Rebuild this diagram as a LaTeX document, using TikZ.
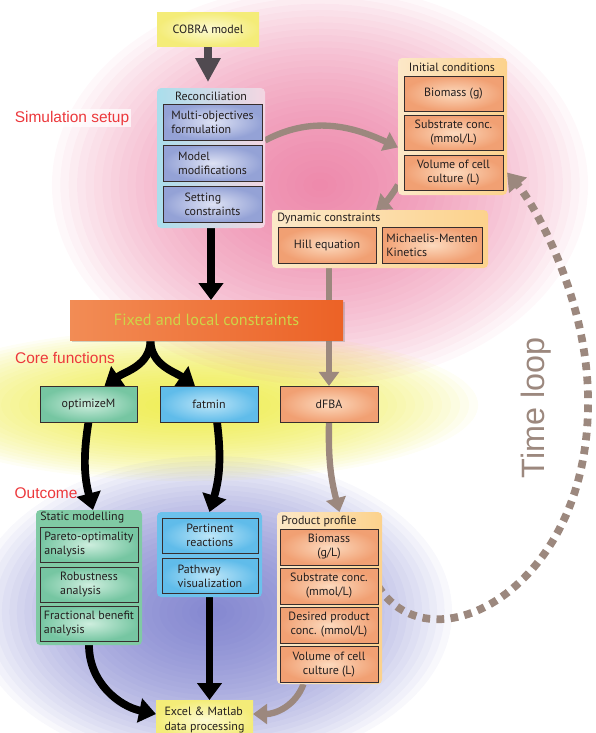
\documentclass[tikz,border=0pt]{standalone}
\usepackage{fontspec}
\setmainfont{PT Sans}
\newfontfamily\labfont{Liberation Sans}
\usetikzlibrary{arrows.meta,shadows}

\pgfdeclarelayer{glow}
\pgfdeclarelayer{wires}
\pgfsetlayers{glow,wires,main}

\begin{document}
\begin{tikzpicture}[x=0.025cm, y=-0.025cm]
  % Colors
  \definecolor{pinkglow}{RGB}{232,100,145}
  \definecolor{yelglow}{RGB}{236,234,50}
  \definecolor{bluglow}{RGB}{100,104,196}
  \definecolor{recout}{RGB}{148,162,214}
  \definecolor{recin}{RGB}{222,226,244}
  \definecolor{orout}{RGB}{241,160,115}
  \definecolor{orin}{RGB}{252,218,190}
  \definecolor{grout}{RGB}{118,198,162}
  \definecolor{grin}{RGB}{206,238,222}
  \definecolor{blout}{RGB}{96,188,234}
  \definecolor{blin}{RGB}{190,230,248}
  \definecolor{recL}{RGB}{170,222,236}
  \definecolor{recM}{RGB}{226,226,244}
  \definecolor{recR}{RGB}{244,214,226}
  \definecolor{orgrpL}{RGB}{252,232,200}
  \definecolor{orgrpR}{RGB}{252,210,140}
  \definecolor{grgrp}{RGB}{128,202,164}
  \definecolor{blgrp}{RGB}{108,193,236}
  \definecolor{yelout}{RGB}{244,236,120}
  \definecolor{yelin}{RGB}{252,250,210}
  \definecolor{fixL}{RGB}{242,140,85}
  \definecolor{fixR}{RGB}{236,98,38}
  \definecolor{fixtxt}{RGB}{206,212,72}
  \definecolor{redlab}{RGB}{236,56,60}
  \definecolor{loopcol}{RGB}{156,136,126}
  \definecolor{boxline}{RGB}{55,45,45}
  \definecolor{txtcol}{RGB}{35,30,30}
  \definecolor{cobraarr}{RGB}{80,74,80}
  %
  \def\pu{0.025cm}
  %
  \tikzset{
    ibox/.style={draw=boxline, line width=0.7pt, outer sep=0pt, inner sep=1pt,
                 minimum width=98*\pu, minimum height=35*\pu, text=txtcol,
                 font=\fontsize{8.5}{10}\selectfont},
    recbox/.style={ibox, inner color=recin, outer color=recout},
    orbox/.style={ibox, inner color=orin, outer color=orout},
    grbox/.style={ibox, inner color=grin, outer color=grout},
    blbox/.style={ibox, inner color=blin, outer color=blout},
    gbox/.style={rounded corners=3pt, outer sep=0pt, inner sep=0pt},
    gtitle/.style={font=\fontsize{8.5}{10}\selectfont, text=txtcol, inner sep=0pt},
    ybox/.style={inner color=yelin, outer color=yelout, outer sep=0pt, text=txtcol,
                 font=\fontsize{8.5}{10}\selectfont},
    stage/.style={text=redlab, font=\labfont\fontsize{11}{13}\selectfont, inner sep=1pt},
    blkarrow/.style={line width=5.5pt, -{Triangle[width=17pt,length=12pt]}},
    gryarrow/.style={line width=4.5pt, color=loopcol, -{Triangle[width=14pt,length=10pt]}},
    looparrow/.style={line width=5.5pt, color=loopcol, dash pattern=on 5.5pt off 4.5pt,
                      -{Triangle[width=16pt,length=12pt]}},
  }
  %
  \useasboundingbox (0,0) rectangle (595,733);
  %
  % Background glows (stacked soft ellipses)
  \begin{pgfonlayer}{glow}
    \foreach \k in {1,...,32} {
      \fill[pinkglow, opacity=0.042] (320,185) ellipse [x radius={6.7cm*\k/32}, y radius={5cm*\k/32}];
      \fill[yelglow, opacity=0.05] (190,405) ellipse [x radius={7.2cm*\k/32}, y radius={1.9cm*\k/32}];
      \fill[bluglow, opacity=0.048] (212,612) ellipse [x radius={6cm*\k/32}, y radius={3.9cm*\k/32}];
    }
  \end{pgfonlayer}
  %
  %%% SIMULATION SETUP %%%
  \node[ybox, minimum width=102*\pu, minimum height=34*\pu] (cobra) at (208,29) {COBRA model};
  \node[stage, fill=white, fill opacity=0.7, text opacity=1] (simlab) at (72,118) {Simulation setup};
  %
  % Reconciliation
  \node[gbox, left color=recL, middle color=recM, right color=recR,
        minimum width=108*\pu, minimum height=140*\pu] (recon) at (211,158) {};
  \node[gtitle] (recon-t) at (211,96) {Reconciliation};
  \foreach \nm/\yy/\txt in {mof/122/{Multi-objectives\\formulation},
                            mmod/163/{Model\\modifications},
                            setc/204/{Setting\\constraints}} {
    \node[recbox, minimum width=99*\pu, minimum height=36*\pu, align=left] (\nm) at (212.5,\yy) {\txt};
  }
  %
  % Initial conditions
  \node[gbox, left color=orgrpL, right color=orgrpR,
        minimum width=109*\pu, minimum height=137*\pu] (ic) at (452.5,126.5) {};
  \node[gtitle] (ic-t) at (452,67) {Initial conditions};
  \foreach \nm/\yy/\txt in {icbio/93.5/{Biomass (g)},
                            icsub/133/{Substrate conc.\\(mmol/L)},
                            icvol/172.5/{Volume of cell\\culture (L)}} {
    \node[orbox, minimum width=99*\pu, align=center] (\nm) at (453.5,\yy) {\txt};
  }
  %
  % Dynamic constraints
  \node[gbox, left color=orgrpL, right color=orgrpR,
        minimum width=216*\pu, minimum height=58*\pu] (dyn) at (380,239) {};
  \node[gtitle, anchor=west] (dyn-t) at (277,218) {Dynamic constraints};
  \node[orbox, minimum height=36*\pu] (hill) at (327,245) {Hill equation};
  \node[orbox, minimum width=100*\pu, minimum height=36*\pu, align=left] (mm) at (432,245) {Michaelis-Menten\\Kinetics};
  %
  %%% CORE FUNCTIONS %%%
  \node[left color=fixL, right color=fixR, outer sep=0pt, text=fixtxt,
        minimum width=273*\pu, minimum height=40*\pu, font=\fontsize{11.5}{13}\selectfont,
        drop shadow={shadow xshift=1.5pt, shadow yshift=-1.5pt, opacity=0.35}]
        (fixed) at (206.5,320) {Fixed and local constraints};
  \node[stage] (corelab) at (65,358) {Core functions};
  %
  \node[grbox, minimum width=97*\pu, minimum height=36*\pu] (opt) at (88.5,404) {optimizeM};
  \node[blbox, minimum height=36*\pu] (fat) at (209,404) {fatmin};
  \node[orbox, minimum height=36*\pu] (dfba) at (329,404) {dFBA};
  %
  %%% OUTCOME %%%
  \node[stage] (outlab) at (46,493) {Outcome};
  %
  % Static modelling
  \node[gbox, fill=grgrp, minimum width=106*\pu, minimum height=135*\pu] (stat) at (89,577.5) {};
  \node[gtitle, anchor=west] (stat-t) at (40,518) {Static modelling};
  \foreach \nm/\yy/\txt in {pareto/544.5/{Pareto-optimality\\analysis},
                            robust/584.5/{Robustness\\analysis},
                            frac/623.5/{Fractional benefit\\analysis}} {
    \node[grbox, align=left] (\nm) at (89,\yy) {\txt};
  }
  %
  % fatmin outcome
  \node[gbox, fill=blgrp, minimum width=105*\pu, minimum height=85*\pu] (pert) at (209.5,554.5) {};
  \node[blbox, minimum width=96*\pu, align=left] (pertr) at (210,535.5) {Pertinent\\reactions};
  \node[blbox, minimum width=96*\pu, align=left] (pathv) at (210,576) {Pathway\\visualization};
  %
  % Product profile
  \node[gbox, left color=orgrpL, right color=orgrpR,
        minimum width=105*\pu, minimum height=172*\pu] (pp) at (329.5,598) {};
  \node[gtitle, anchor=west] (pp-t) at (281,521) {Product profile};
  \foreach \nm/\yy/\txt in {ppbio/547/{Biomass\\(g/L)},
                            ppsub/586/{Substrate conc.\\(mmol/L)},
                            ppdes/625/{Desired product\\conc. (mmol/L)},
                            ppvol/664.5/{Volume of cell\\culture (L)}} {
    \node[orbox, minimum height=36*\pu, align=center] (\nm) at (329,\yy) {\txt};
  }
  %
  \node[ybox, minimum width=97*\pu, minimum height=40*\pu, align=left] (excel) at (204.5,720) {Excel \& Matlab\\data processing};
  %
  \node[text=loopcol, font=\labfont\fontsize{23}{26}\selectfont, rotate=90] (tloop) at (536,408) {Time loop};
  %
  %%% CONNECTORS %%%
  \begin{pgfonlayer}{wires}
    \draw[line width=5.5pt, color=cobraarr, -{Triangle[width=17pt,length=17pt]}, shorten >=0.15cm]
      (cobra.south) -- (cobra.south |- recon.north);
    \draw[blkarrow] (recon.south) -- (recon.south |- fixed.north);
    \draw[gryarrow] (recon.18) to[out=28, in=155] (ic.201);
    \draw[gryarrow] (ic.227) to[bend left=10] ([xshift=-0.1cm]dyn.north);
    \draw[gryarrow] (dfba.north |- dyn.south) -- (dfba.north);
    %
    \draw[blkarrow] ([xshift=-1.4cm]fixed.south) to[out=-90, in=35] ([xshift=0.4cm]opt.north);
    \draw[blkarrow] ([xshift=-1.4cm]fixed.south) to[out=-90, in=145] ([xshift=-0.35cm]fat.north);
    %
    \draw[blkarrow] (opt.south) to[bend right=12] ([xshift=0.1cm]stat.north);
    \draw[blkarrow] ([xshift=0.2cm]fat.south) to[bend left=12] (pert.north);
    \draw[gryarrow] (dfba.south) to[bend right=8] ([xshift=0.25cm]pp.north);
    %
    \draw[blkarrow] (stat.south) to[out=-90, in=168] ([yshift=0.15cm]excel.west);
    \draw[blkarrow] (pert.south) -- (pert.south |- excel.north);
    \draw[gryarrow] ([xshift=-0.65cm]pp.south) to[out=-110, in=0] ([yshift=0.15cm]excel.east);
    %
    % time loop
    \draw[looparrow] (ppsub.east) .. controls (430,670) and (590,590) .. (588,400)
      .. controls (588,300) and (535,205) .. ([xshift=0.1cm]icvol.east);
  \end{pgfonlayer}
\end{tikzpicture}
\end{document}
